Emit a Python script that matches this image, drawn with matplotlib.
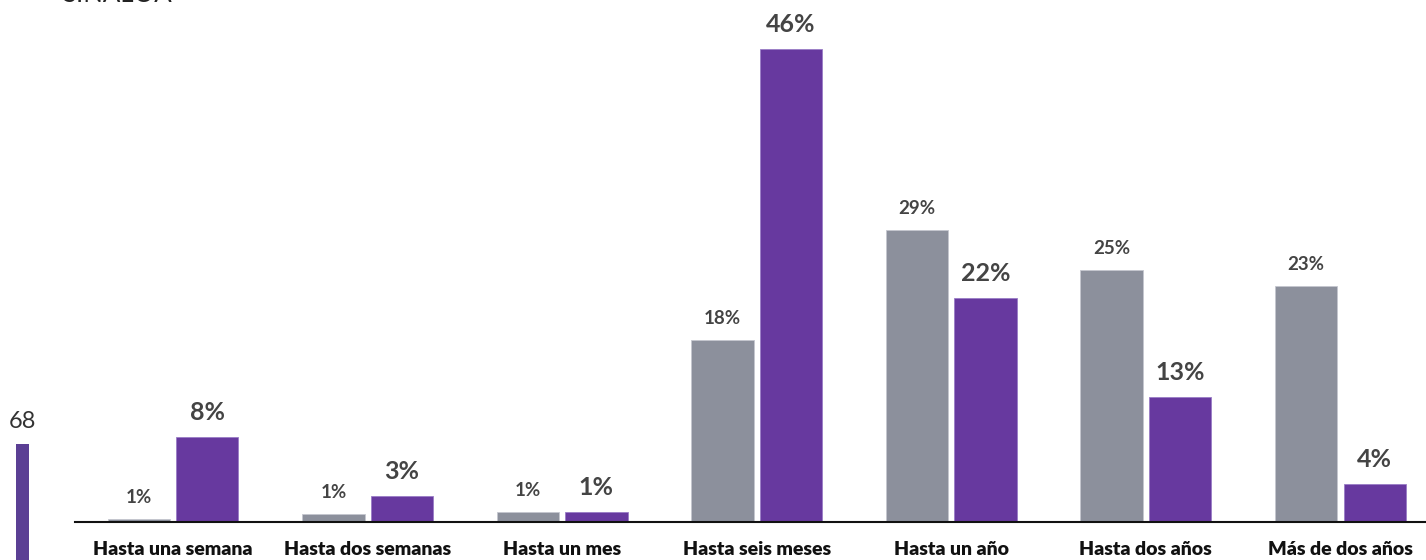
import matplotlib
matplotlib.use("Agg")
import matplotlib.pyplot as plt
import numpy as np

categories = ["Hasta una semana", "Hasta dos semanas", "Hasta un mes", "Hasta seis meses",
              "Hasta un año", "Hasta dos años", "Más de dos años"]
gray_values = [0.3, 0.8, 1.0, 17.7, 28.4, 24.5, 23.0]
purple_values = [8.3, 2.5, 1.0, 46.0, 21.8, 12.2, 3.7]
gray_labels = ["1%", "1%", "1%", "18%", "29%", "25%", "23%"]
purple_labels = ["8%", "3%", "1%", "46%", "22%", "13%", "4%"]
side_value = 68
side_label = "68"
title_text = "SINALOA"

GRAY = "#8c909c"
PURPLE = "#67399f"
SIDE = "#5b3f94"

plt.rcParams['font.family'] = ['Lato', 'DejaVu Sans']

W, H = 1426, 560
fig = plt.figure(figsize=(W / 100, H / 100), dpi=100)

ax = fig.add_axes([75 / W, (H - 522) / H, (W - 75) / W, 522 / H])
x = np.arange(len(categories))
off = 0.176
bw = 0.32
ax.bar(x - off, gray_values, width=bw, color=GRAY, edgecolor="#c4c6cf", linewidth=0.6)
ax.bar(x + off, purple_values, width=bw, color=PURPLE, edgecolor="#9a7cc6", linewidth=0.6)
ax.set_xlim(-0.504, 6.44)
ax.set_ylim(0, 522 / 10.28)
for s in ["top", "left", "right"]:
    ax.spines[s].set_visible(False)
ax.spines["bottom"].set_linewidth(1.5)
ax.spines["bottom"].set_color("#111111")
ax.set_yticks([])
ax.set_xticks(x)
ax.set_xticklabels(categories, fontsize=14, fontweight="heavy", color="#111111")
ax.tick_params(axis="x", length=0, pad=14)

for xi, v, lab in zip(x, gray_values, gray_labels):
    ax.annotate(lab, (xi - off, v), xytext=(0, 15.5), textcoords="offset points",
                ha="center", va="center", fontsize=13.5, fontweight="bold", color="#444444")
for xi, v, lab in zip(x, purple_values, purple_labels):
    ax.annotate(lab, (xi + off, v), xytext=(0, 17.5), textcoords="offset points",
                ha="center", va="center", fontsize=18, fontweight="bold", color="#444444")

# fragment of neighbouring element on the left
ax2 = fig.add_axes([16 / W, 0, 13 / W, (H - 444) / H])
ax2.bar([0], [side_value], width=1.0, color=SIDE)
ax2.set_xlim(-0.5, 0.5)
ax2.set_ylim(side_value - (H - 444) * 0.5, side_value)
ax2.axis("off")
fig.text(22 / W, 1 - 422 / H, side_label, ha="center", va="center", fontsize=17, color="#333333")

fig.text(62 / W, 1 - 2.5 / H, title_text, ha="left", va="baseline", fontsize=18.5, color="#222222")

fig.savefig("out.png", dpi=100)
